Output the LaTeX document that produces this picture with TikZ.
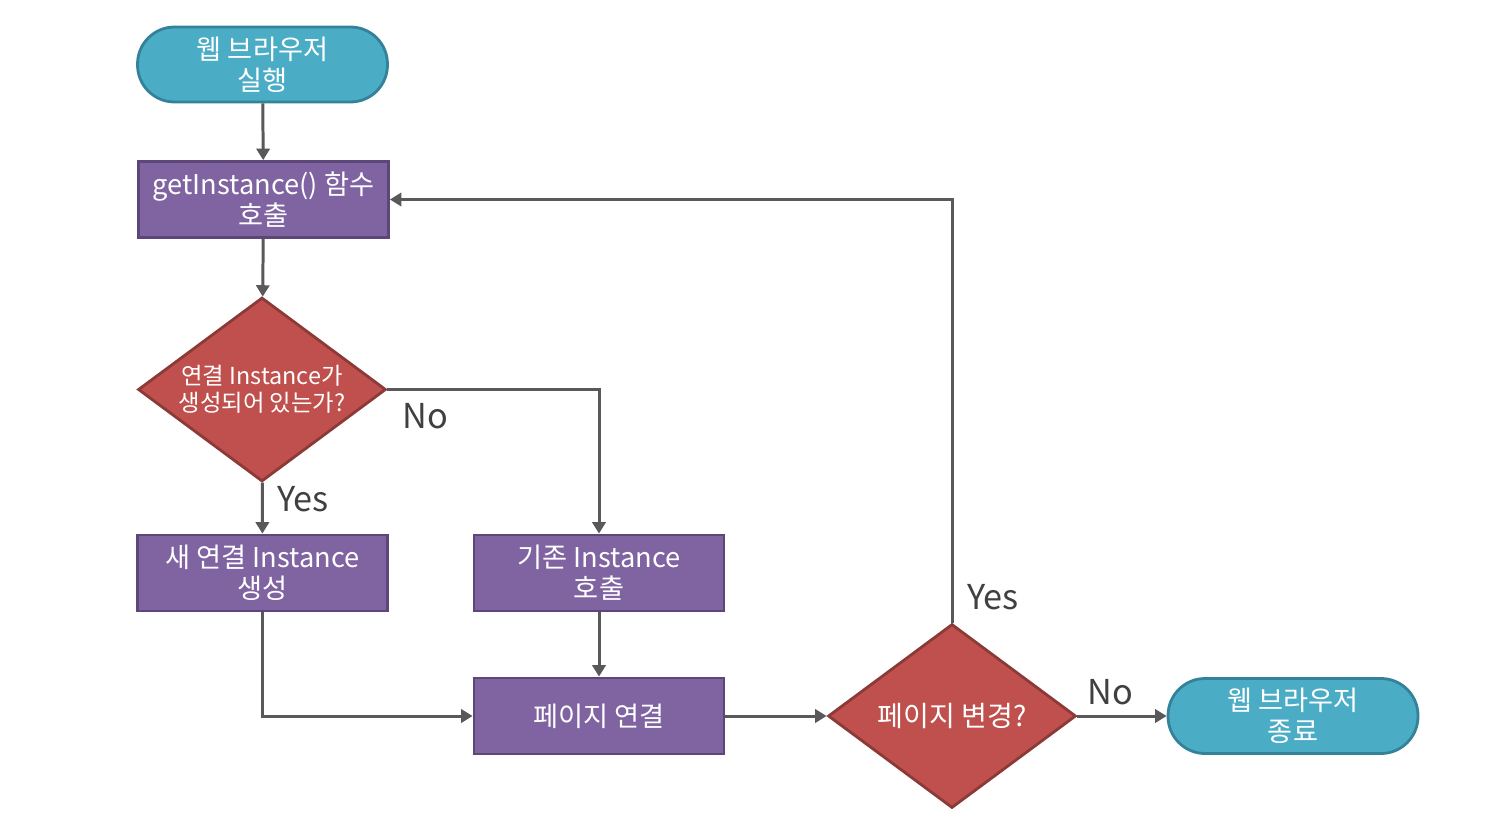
\documentclass[tikz,border=0pt]{standalone}
\usepackage{fontspec}
\setmainfont{Noto Sans CJK KR}
\usetikzlibrary{shapes.geometric,arrows.meta}
\definecolor{tealfill}{HTML}{4BACC6}
\definecolor{tealline}{HTML}{34829A}
\definecolor{purfill}{HTML}{8064A2}
\definecolor{purline}{HTML}{5C4778}
\definecolor{redfill}{HTML}{C0504D}
\definecolor{redline}{HTML}{8C3A38}
\definecolor{conncol}{HTML}{595959}
\definecolor{labcol}{HTML}{404040}
\tikzset{
  term/.style={draw=tealline, fill=tealfill, line width=1.6pt, rectangle, rounded corners=0.74cm,
    minimum width=5.0cm, minimum height=1.5cm, inner sep=0pt, align=center, text=white,
    font=\fontsize{15.5}{17.5}\selectfont},
  procbox/.style={draw=purline, fill=purfill, line width=1.6pt, rectangle,
    minimum width=5.0cm, minimum height=1.52cm, inner sep=0pt, align=center, text=white,
    font=\fontsize{15.5}{17.5}\selectfont},
  decide/.style={draw=redline, fill=redfill, line width=1.6pt, diamond, aspect=1.35,
    minimum width=4.96cm, minimum height=3.68cm, inner sep=0pt, align=center, text=white},
  conn/.style={draw=conncol, line width=1.7pt, -{Triangle[length=6.5pt,width=7.5pt]}},
  lab/.style={text=labcol, font=\fontsize{19.5}{22}\selectfont, inner sep=0pt},
}
\begin{document}
\begin{tikzpicture}[x=0.02cm, y=-0.02cm]
\useasboundingbox (0,0) rectangle (1500,835);
\node[term] (t1) at (262.5,64.5) {웹 브라우저\\실행};
\node[procbox] (b1) at (263.5,199.5) {getInstance() 함수\\호출};
\node[decide, font=\fontsize{13.3}{15.5}\selectfont] (d1) at (262,389.5) {연결 Instance가\\생성되어 있는가?};
\node[procbox] (bnew) at (262.5,573) {새 연결 Instance\\생성};
\node[procbox] (bold) at (599,573) {기존 Instance\\호출};
\node[procbox] (bpage) at (599,716) {페이지 연결};
\node[decide, font=\fontsize{16}{18}\selectfont] (d2) at (952,716) {페이지 변경?};
\node[term] (t2) at (1293,716) {웹 브라우저\\종료};

\node[lab] (ly1) at (303,499) {Yes};
\node[lab] (ln1) at (425,416) {No};
\node[lab] (ly2) at (993,597) {Yes};
\node[lab] (ln2) at (1110,692) {No};

\draw[conn] (t1) -- (b1);
\draw[conn] (b1) -- (d1);
\draw[conn] (d1) -- (bnew);
\draw[conn] (d1.east) -| (bold);
\draw[conn] (bnew) |- (bpage);
\draw[conn] (bold) -- (bpage);
\draw[conn] (bpage) -- (d2);
\draw[conn] (d2.north) |- (b1.east);
\draw[conn] (d2) -- (t2);
\end{tikzpicture}
\end{document}
